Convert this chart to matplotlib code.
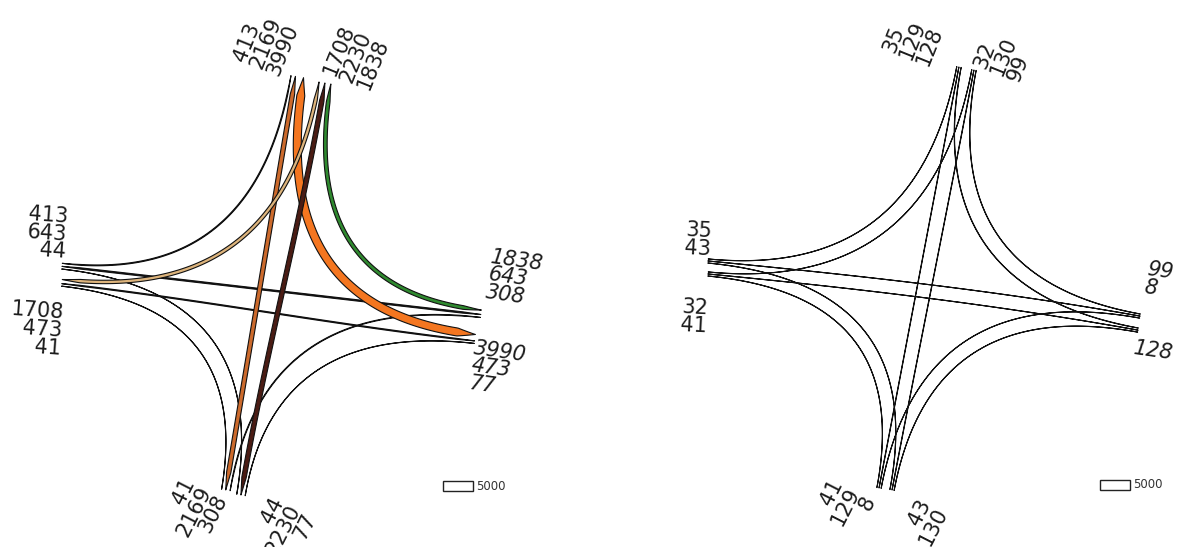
import numpy as np
import matplotlib
matplotlib.use("Agg")
import matplotlib.pyplot as plt
from matplotlib.patches import Polygon, Rectangle

# Turning movements at the junction: origin lane -> destination lane
flow_from = ["N1", "N1", "N1", "N2", "N2", "N2", "W1", "W1", "W2", "W2", "E1", "E2"]
flow_to = ["W1", "S1", "E2", "W2", "S2", "E1", "E1", "S2", "E2", "S1", "S1", "S2"]

# Volumes for the two scenarios
left_volume = [413, 2169, 3990, 1708, 2230, 1838, 643, 44, 473, 41, 308, 77]
right_volume = [35, 129, 128, 32, 130, 99, 0, 43, 0, 41, 8, 0]

left_colors = ["black", "#CC6A2C", "#F47620", "#DDB47C", "#4A1C14", "#2F8A2F",
               "black", "black", "black", "black", "black", "black"]
right_colors = ["black"] * 12

legend_volume = 5000

# order in which the partner arms are listed in each arm's label stack
label_order = {"N": "WSE", "W": "NES", "E": "NWS", "S": "WNE"}

PX_PER_VOLUME = 10.0 / 5000.0  # ribbon width in pixels per vehicle
GAP = 2.0
TAPER = 18.0

LEFT_LAYOUT = dict(
    lanes={"N1": (299, 77), "N2": (325, 83), "W1": (62, 266), "W2": (62, 282),
           "E1": (481, 313), "E2": (475, 337), "S1": (226, 490), "S2": (241, 495)},
    dirs={"N": (-70, 412), "S": (70, -412), "W": (418, 47), "E": (-418, -47)},
    labels={"N1": ((266, 43), 68, "left", "normal"),
            "N2": ((356, 57), 68, "left", "normal"),
            "W1": ((47, 233), -4, "right", "normal"),
            "W2": ((36, 329), -4, "right", "normal"),
            "E1": ((515, 278), -8, "left", "italic"),
            "E2": ((498, 369), -8, "left", "italic"),
            "S1": ((194, 512), 63, "right", "normal"),
            "S2": ((283, 530), 63, "right", "normal")},
    legend=(443, 481),
)

RIGHT_LAYOUT = dict(
    lanes={"N1": (959, 67), "N2": (974, 70), "W1": (708, 261), "W2": (708, 274),
           "E1": (1140, 316), "E2": (1138, 330), "S1": (879, 488), "S2": (892, 490)},
    dirs={"N": (-80, 421), "S": (80, -421), "W": (1, 0.096), "E": (-1, -0.18)},
    labels={"N1": ((913, 40), 68, "left", "normal"),
            "N2": ((1004, 56), 68, "left", "normal"),
            "W1": ((698, 240), -3, "right", "normal"),
            "W2": ((694, 317), -3, "right", "normal"),
            "E1": ((1159, 280), -8, "left", "italic"),
            "E2": ((1154, 351), -8, "left", "italic"),
            "S1": ((845, 507), 63, "right", "normal"),
            "S2": ((925, 522), 63, "right", "normal")},
    legend=(1100, 480),
)


def unit(v):
    v = np.asarray(v, float)
    return v / np.hypot(*v)


def bezier(p0, c1, c2, p3, n=260):
    t = np.linspace(0, 1, n)[:, None]
    return ((1 - t) ** 3) * p0 + 3 * ((1 - t) ** 2) * t * c1 + 3 * (1 - t) * t ** 2 * c2 + t ** 3 * p3


def control_points(p0, d0, p3, d3):
    a = np.array([d0, -d3]).T
    if abs(np.linalg.det(a)) > 0.25:
        s, u = np.linalg.solve(a, p3 - p0)
        if s > 0 and u > 0:
            return p0 + 2 / 3 * s * d0, p3 + 2 / 3 * u * d3
    length = np.hypot(*(p3 - p0))
    return p0 + length / 3 * d0, p3 + length / 3 * d3


def ribbon(pts, width):
    seg = np.diff(pts, axis=0)
    s = np.concatenate([[0], np.cumsum(np.hypot(seg[:, 0], seg[:, 1]))])
    total = s[-1]
    tang = np.gradient(pts, axis=0)
    tang /= np.hypot(tang[:, 0], tang[:, 1])[:, None]
    nrm = np.stack([-tang[:, 1], tang[:, 0]], axis=1)
    half = width / 2 * np.clip(np.minimum(s, total - s) / TAPER, 0, 1)
    side_a = pts + nrm * half[:, None]
    side_b = pts - nrm * half[:, None]
    return np.vstack([side_a, side_b[::-1]])


def draw_panel(ax, volumes, colors, layout):
    lanes = {k: np.array(v, float) for k, v in layout["lanes"].items()}
    dirs = {k: unit(v) for k, v in layout["dirs"].items()}
    widths = [v * PX_PER_VOLUME for v in volumes]

    # spread the flows leaving/entering a lane side by side
    ends = {}
    for lane, p in lanes.items():
        d = dirs[lane[0]]
        n = np.array([-d[1], d[0]])
        members = []
        for i, (a, b) in enumerate(zip(flow_from, flow_to)):
            if a == lane:
                members.append((i, 0, b))
            elif b == lane:
                members.append((i, 1, a))
        members.sort(key=lambda m: np.dot(lanes[m[2]] - p, n))
        total = sum(widths[m[0]] for m in members) + GAP * (len(members) - 1)
        pos = -total / 2
        for i, end, _ in members:
            ends[(i, end)] = p + n * (pos + widths[i] / 2)
            pos += widths[i] + GAP

    order = [i for i in range(len(volumes)) if colors[i] == "black"] + \
            [i for i in range(len(volumes)) if colors[i] != "black"]
    for z, i in enumerate(order):
        p0 = ends[(i, 0)]
        p3 = ends[(i, 1)]
        d0 = dirs[flow_from[i][0]]
        d3 = dirs[flow_to[i][0]]
        c1, c2 = control_points(p0, d0, p3, d3)
        pts = bezier(p0, c1, c2, p3)
        ax.add_patch(Polygon(ribbon(pts, widths[i]), closed=True, facecolor=colors[i],
                             edgecolor="#111111", linewidth=0.8, zorder=2 + z * 0.01,
                             joinstyle="round"))

    # volume labels at the end of each lane
    for lane, (center, rot, malign, style) in layout["labels"].items():
        arm = lane[0]
        items = []
        for i, (a, b) in enumerate(zip(flow_from, flow_to)):
            if volumes[i] <= 0:
                continue
            if a == lane:
                items.append((label_order[arm].index(b[0]), volumes[i]))
            elif b == lane:
                items.append((label_order[arm].index(a[0]), volumes[i]))
        items.sort()
        text = "\n".join(str(v) for _, v in items)
        ax.text(center[0], center[1], text, rotation=rot, ha="center", va="center",
                multialignment=malign, fontsize=15, linespacing=0.87,
                fontstyle=style, family="DejaVu Sans", color="#1c1c1c", zorder=5)

    # width legend
    lx, ly = layout["legend"]
    h = legend_volume * PX_PER_VOLUME
    ax.add_patch(Rectangle((lx, ly), 30, h, facecolor="white", edgecolor="#222222",
                           linewidth=1.0, zorder=5))
    ax.text(lx + 33, ly + h / 2, str(legend_volume), ha="left", va="center",
            fontsize=8.5, family="DejaVu Sans", color="#333333", zorder=5)


fig = plt.figure(figsize=(11.81, 5.47), dpi=100)
ax = fig.add_axes([0, 0, 1, 1])
ax.set_xlim(0, 1181)
ax.set_ylim(547, 0)
ax.axis("off")

draw_panel(ax, left_volume, left_colors, LEFT_LAYOUT)
draw_panel(ax, right_volume, right_colors, RIGHT_LAYOUT)

fig.savefig("out.png", dpi=100, facecolor="white")
